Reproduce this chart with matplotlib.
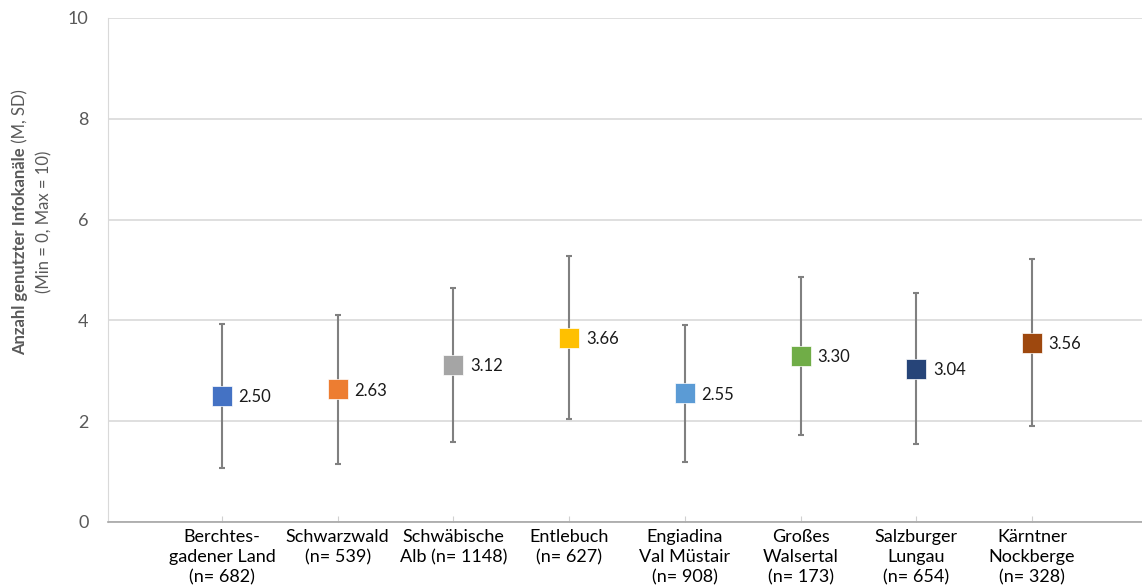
import numpy as np
import matplotlib
matplotlib.use("Agg")
from matplotlib import pyplot as plt

# data
regions = ["Berchtes-\ngadener Land\n(n= 682)", "Schwarzwald\n(n= 539)", "Schwäbische\nAlb (n= 1148)",
           "Entlebuch\n(n= 627)", "Engiadina\nVal Müstair\n(n= 908)", "Großes\nWalsertal\n(n= 173)",
           "Salzburger\nLungau\n(n= 654)", "Kärntner\nNockberge\n(n= 328)"]
means = [2.50, 2.63, 3.12, 3.66, 2.55, 3.30, 3.04, 3.56]
sds = [1.43, 1.48, 1.53, 1.62, 1.36, 1.57, 1.50, 1.65]
colors = ["#4472C4", "#ED7D31", "#A5A5A5", "#FFC000", "#5B9BD5", "#70AD47", "#264478", "#9E480E"]

plt.rcParams['font.family'] = ['Lato', 'DejaVu Sans']

fig = plt.figure(figsize=(11.42, 5.88), dpi=100)
ax = fig.add_axes([108/1142, 1-522/588, 1-108/1142, (522-18)/588])

xs = np.arange(1, len(means)+1)
for x, m, s, c in zip(xs, means, sds, colors):
    ax.errorbar(x, m, yerr=s, fmt='none', ecolor='#808080', elinewidth=1.5, capsize=2.5, capthick=1.5, zorder=2)
    ax.plot(x, m, marker='s', markersize=14, color=c, markeredgecolor='white', markeredgewidth=0.5, zorder=3)
    ax.annotate(f"{m:.2f}", (x, m), xytext=(12, -1), textcoords='offset points',
                ha='left', va='center', fontsize=12, color='#1a1a1a')

ax.set_xlim(0.015, 8.95)
ax.set_ylim(0, 10)
ax.set_yticks([0, 2, 4, 6, 8, 10])
ax.set_xticks(xs)
ax.set_xticklabels(regions, fontsize=13, color='black', linespacing=1.32)
ax.tick_params(axis='x', direction='in', length=4, color='#D0D0D0', pad=5)
ax.tick_params(axis='y', length=0, labelsize=13, labelcolor='#595959', pad=14)
ax.grid(axis='y', color='#D9D9D9', linewidth=1.2)
ax.set_axisbelow(True)
for sp in ['top', 'right']:
    ax.spines[sp].set_visible(False)
ax.spines['left'].set_color('#D9D9D9')
ax.spines['bottom'].set_color('#A6A6A6')
ax.spines['bottom'].set_linewidth(1.2)

# y axis title, bold and normal parts on the first line
fig.canvas.draw()
r = fig.canvas.get_renderer()
t1 = fig.text(20/1142, 0.5, "Anzahl genutzter Infokanäle", rotation=90, fontsize=12,
              fontweight='bold', color='#595959', ha='center', va='bottom')
t2 = fig.text(20/1142, 0.5, " (M, SD)", rotation=90, fontsize=12,
              color='#595959', ha='center', va='bottom')
h1 = t1.get_window_extent(r).height
h2 = t2.get_window_extent(r).height
ycen = 588 - 222
start = ycen - (h1 + h2) / 2
t1.set_y(start / 588)
t2.set_y((start + h1) / 588)
fig.text(44/1142, ycen/588, "(Min = 0, Max = 10)", rotation=90, fontsize=12,
         color='#595959', ha='center', va='center')

fig.savefig("out.png", dpi=100)
